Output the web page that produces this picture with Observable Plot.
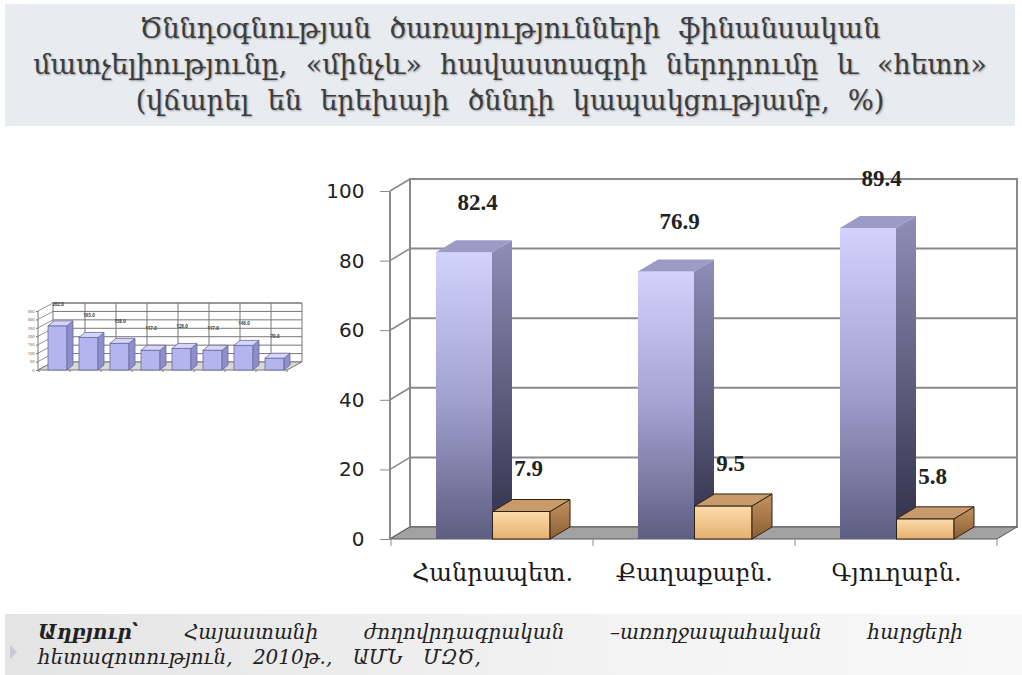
<!DOCTYPE html>
<html><head><meta charset="utf-8">
<script src="https://cdn.jsdelivr.net/npm/d3@7"></script>
<script src="https://cdn.jsdelivr.net/npm/@observablehq/plot@0.6"></script>
<style>
html,body{margin:0;padding:0;background:#fff;}
body{width:1022px;height:675px;position:relative;overflow:hidden;font-family:"DejaVu Serif",serif;}
#title{position:absolute;left:5px;top:4px;width:1010px;height:122px;background:#e8ecf1;text-align:center;font-size:27px;line-height:36px;color:#3c3c3c;text-shadow:1px 1px 2px rgba(0,0,0,.35);padding-top:7px;box-sizing:border-box;word-spacing:10px;}
#main{position:absolute;left:0;top:150px;}
#thumb{position:absolute;left:0;top:245px;}
#source{position:absolute;left:5px;top:614px;width:1017px;height:61px;background:linear-gradient(90deg,#e4e4e4,#f3f3f3 60%,#f8f8f8);}
#source .l1{position:absolute;left:33px;top:6px;width:925px;font-style:italic;font-size:20px;text-align:justify;text-align-last:justify;color:#222;}
#source .l2{position:absolute;left:33px;top:31px;font-style:italic;font-size:20px;color:#222;word-spacing:14px;}
#source .b{font-weight:bold;}
#bullet{position:absolute;left:10px;top:645px;width:0;height:0;border-top:7px solid transparent;border-bottom:7px solid transparent;border-left:7px solid #c8c8d0;}
</style></head>
<body>
<div id="title"></div>
<div id="thumb"></div>
<div id="main"></div>
<div id="source"></div>
<div id="bullet"></div>
<script>
// ---------- data ----------
const titleLines = [
  "Ծննդօգնության  ծառայությունների  ֆինանսական",
  "մատչելիությունը, «մինչև» հավաստագրի ներդրումը և «հետո»",
  "(վճարել  են  երեխայի  ծննդի  կապակցությամբ, %)"
];
const categories = ["Հանրապետ.", "Քաղաքաբն.", "Գյուղաբն."];
const seriesNames = ["մինչև", "հետո"];
const beforeValues = [82.4, 76.9, 89.4];
const afterValues = [7.9, 9.5, 5.8];
const yTicks = [0, 20, 40, 60, 80, 100];

const thumbCategories = ["1", "2", "3", "4", "5", "6", "7", "8"];
const thumbValues = [262, 193, 158, 117, 128, 117, 146, 70];
const thumbTicks = [0, 50, 100, 150, 200, 250, 300, 350];

const sourceBold = "Աղբյուր՝";
const sourceLine1 = "Հայաստանի ժողովրդագրական –առողջապահական հարցերի";
const sourceLine2 = "հետազոտություն, 2010թ., ԱՄՆ ՄԶԾ,";

// ---------- text blocks ----------
document.getElementById("title").innerHTML = titleLines.map(t => `<div>${t}</div>`).join("");
document.getElementById("source").innerHTML =
  `<div class="l1"><span class="b">${sourceBold}</span> ${sourceLine1}</div><div class="l2">${sourceLine2}</div>`;

// ---------- helpers ----------
const NS = "http://www.w3.org/2000/svg";
function el(tag, attrs) {
  const e = document.createElementNS(NS, tag);
  for (const k in attrs) e.setAttribute(k, attrs[k]);
  return e;
}
function grad(id, stops) {
  const g = el("linearGradient", {id, x1: 0, y1: 0, x2: 0, y2: 1});
  stops.forEach(([o, c]) => g.appendChild(el("stop", {offset: o, "stop-color": c})));
  return g;
}
function pts(a) { return a.map(p => p.join(",")).join(" "); }

// 3D faces appended to each bar rectangle
function extrude(DX, DY, sideFill, topFill, stroke, sw) {
  return (index, scales, values, dims, ctx, next) => {
    const g = next(index, scales, values, dims, ctx);
    const rects = Array.from(g.querySelectorAll("rect"));
    for (const r of rects) {
      const x = +r.getAttribute("x"), y = +r.getAttribute("y"),
            w = +r.getAttribute("width"), h = +r.getAttribute("height");
      const parent = r.parentNode;
      const side = el("polygon", {points: pts([[x + w, y], [x + w + DX, y + DY], [x + w + DX, y + h + DY], [x + w, y + h]]),
        fill: sideFill, stroke: stroke, "stroke-width": sw});
      const top = el("polygon", {points: pts([[x, y], [x + DX, y + DY], [x + w + DX, y + DY], [x + w, y]]),
        fill: topFill, stroke: stroke, "stroke-width": sw});
      parent.appendChild(side);
      parent.appendChild(top);
    }
    return g;
  };
}

// Back wall, gridlines, floor, side wall, category boundary ticks
function chartBox(DX, DY, ticks, cats, opts) {
  return (index, scales, values, dims) => {
    const g = el("g", {});
    const x0 = dims.marginLeft, x1 = dims.width - dims.marginRight;
    const y0 = scales.y(0), yTop = scales.y(ticks[ticks.length - 1]);
    const lc = opts.line, lw = opts.lineWidth;
    g.appendChild(el("polygon", {points: pts([[x0 + DX, yTop + DY], [x1 + DX, yTop + DY], [x1 + DX, y0 + DY], [x0 + DX, y0 + DY]]),
      fill: "#fff", stroke: lc, "stroke-width": lw}));
    for (const t of ticks) {
      const y = scales.y(t);
      if (t > 0) g.appendChild(el("line", {x1: x0 + DX, x2: x1 + DX, y1: y + DY, y2: y + DY, stroke: lc, "stroke-width": lw}));
      g.appendChild(el("line", {x1: x0, x2: x0 + DX, y1: y, y2: y + DY, stroke: lc, "stroke-width": lw * 0.8}));
    }
    if (opts.vlines) {
      for (const c of cats.slice(1)) {
        const bx = scales.x(c);
        g.appendChild(el("line", {x1: bx + DX, x2: bx + DX, y1: yTop + DY, y2: y0 + DY, stroke: lc, "stroke-width": lw}));
      }
    }
    g.appendChild(el("polygon", {points: pts([[x0, y0], [x1, y0], [x1 + DX, y0 + DY], [x0 + DX, y0 + DY]]),
      fill: opts.floor, stroke: opts.floorStroke, "stroke-width": 1}));
    g.appendChild(el("line", {x1: x0, x2: x0, y1: y0, y2: yTop, stroke: lc, "stroke-width": lw}));
    const bounds = cats.map(c => scales.x(c)).concat([x1]);
    for (const bx of bounds) g.appendChild(el("line", {x1: bx, x2: bx, y1: y0, y2: y0 + opts.tick, stroke: lc, "stroke-width": 1}));
    return g;
  };
}

// ---------- main chart ----------
const rows = categories.map((c, i) => ({cat: c, [seriesNames[0]]: beforeValues[i], [seriesNames[1]]: afterValues[i]}));
const DX = 20, DY = -12;

const defsMark = (index, scales, values, dims) => {
  const d = el("defs", {});
  d.appendChild(grad("pFront", [[0, "#d2d2fd"], [0.5, "#a3a3d2"], [1, "#5e5e82"]]));
  d.appendChild(grad("pSide", [[0, "#8e8eb8"], [1, "#2f2f48"]]));
  d.appendChild(grad("oFront", [[0, "#fcdcab"], [1, "#e6b070"]]));
  d.appendChild(grad("oSide", [[0, "#c4935f"], [1, "#8a5f35"]]));
  return d;
};

const main = Plot.plot({
  width: 1022, height: 450,
  marginLeft: 390, marginRight: 25, marginTop: 41, marginBottom: 61,
  style: {background: "transparent", overflow: "visible"},
  x: {type: "band", domain: categories, padding: 0, axis: null},
  y: {domain: [0, 100], axis: null},
  marks: [
    defsMark,
    Plot.frame({stroke: "none", render: chartBox(DX, DY, yTicks, categories, {line: "#8a8a8a", lineWidth: 2, floor: "#a2a2a2", floorStroke: "#5a5a5a", tick: 7, vlines: false})}),
    Plot.axisY(yTicks, {tickSize: 10, tickPadding: 16, fontSize: 20, fontFamily: "DejaVu Sans", fill: "#222", stroke: "#8a8a8a", label: null}),
    Plot.axisX({tickSize: 0, tickPadding: 24, fontSize: 24, fontFamily: "DejaVu Serif", fill: "#1a1a1a", label: null}),
    Plot.barY(rows, {x: "cat", y: seriesNames[0], insetLeft: 45, insetRight: 101, fill: "url(#pFront)",
      render: extrude(DX, DY, "url(#pSide)", "#9b9bc6", "none", 0)}),
    Plot.barY(rows, {x: "cat", y: seriesNames[1], insetLeft: 101.5, insetRight: 43, fill: "url(#oFront)", stroke: "#2e2214", strokeWidth: 1,
      render: extrude(DX, DY, "url(#oSide)", "#c99b6b", "#2e2214", 1)}),
    Plot.text(rows, {x: "cat", y: seriesNames[0], text: d => d[seriesNames[0]].toFixed(1), dx: -15, dy: -50,
      fontSize: 23, fontWeight: "bold", fontFamily: "Liberation Serif", fill: "#222"}),
    Plot.text(rows, {x: "cat", y: seriesNames[1], text: d => d[seriesNames[1]].toFixed(1), dx: 36, dy: -43,
      fontSize: 23, fontWeight: "bold", fontFamily: "Liberation Serif", fill: "#222"})
  ]
});
document.getElementById("main").appendChild(main);

// ---------- thumbnail chart ----------
const trows = thumbCategories.map((c, i) => ({cat: c, v: thumbValues[i]}));
const thumb = Plot.plot({
  width: 320, height: 150,
  marginLeft: 38, marginRight: 33, marginTop: 66, marginBottom: 25,
  style: {background: "transparent", overflow: "visible"},
  x: {type: "band", domain: thumbCategories, padding: 0, axis: null},
  y: {domain: [0, 350], axis: null},
  marks: [
    Plot.frame({stroke: "none", render: chartBox(15, -8, thumbTicks, thumbCategories, {line: "#777", lineWidth: 1, floor: "#d8d8d8", floorStroke: "#777", tick: 2, vlines: true})}),
    Plot.axisY(thumbTicks, {tickSize: 2, tickPadding: 2, fontSize: 4, fill: "#555", stroke: "#777", label: null}),
    Plot.barY(trows, {x: "cat", y: "v", insetLeft: 9, insetRight: 3, fill: "#b4b4ee", stroke: "#6a6a9a", strokeWidth: 0.8,
      render: extrude(6, -5, "#8e8ecc", "#d6d6fa", "#6a6a9a", 0.8)}),
    Plot.text(trows, {x: "cat", y: "v", text: d => d.v.toFixed(1), dy: -22, dx: 3, fontSize: 4.5, fontWeight: "bold", fill: "#444"})
  ]
});
document.getElementById("thumb").appendChild(thumb);
</script>
</body></html>
